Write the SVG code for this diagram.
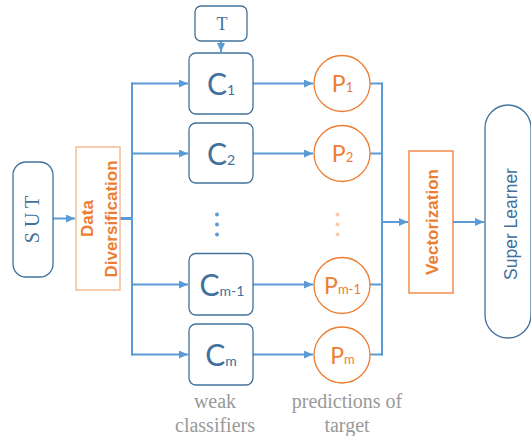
<svg xmlns="http://www.w3.org/2000/svg" width="531" height="436" viewBox="0 0 531 436">
<defs>
<marker id="ah" markerUnits="userSpaceOnUse" markerWidth="10" markerHeight="9" refX="9" refY="4" orient="auto">
<path d="M0,0 L9,4 L0,8 z" fill="#5b9bd5"/>
</marker>
<style>
.bx{fill:#fff;stroke:#41719c;stroke-width:1.3}
.cn{fill:none;stroke:#5b9bd5;stroke-width:2}
.ar{fill:none;stroke:#5b9bd5;stroke-width:2;marker-end:url(#ah)}
.ct{font-family:Lato,"Liberation Sans",sans-serif;fill:#41719c}
.pt{font-family:Lato,"Liberation Sans",sans-serif;fill:#ed7d31}
.pc{fill:#fff;stroke:#ed7d31;stroke-width:1.3}
.ob{font-family:"Liberation Sans",Arial,sans-serif;font-weight:bold;font-size:17px;fill:#ed7d31}
.lb{font-family:"Liberation Serif","DejaVu Serif","Times New Roman",serif;font-size:20px;fill:#999}
.sf{font-family:"Liberation Serif","DejaVu Serif","Times New Roman",serif;fill:#41719c}
</style>
</defs>
<rect width="531" height="436" fill="#fff"/>
<g id="connectors">
<line class="ar" x1="53" y1="218.5" x2="75" y2="218.5"/>
<line x1="120" y1="218.5" x2="132" y2="218.5" stroke="#5b9bd5" stroke-width="3"/>
<line class="cn" x1="132" y1="82.5" x2="132" y2="355.5"/>
<line class="ar" x1="131" y1="83.5" x2="188" y2="83.5"/>
<line class="ar" x1="131" y1="153.5" x2="188" y2="153.5"/>
<line class="ar" x1="131" y1="284.5" x2="188" y2="284.5"/>
<line class="ar" x1="131" y1="354.5" x2="188" y2="354.5"/>
<line class="ar" x1="221" y1="41" x2="221" y2="52"/>
<line class="ar" x1="253" y1="83.5" x2="313" y2="83.5"/>
<line class="ar" x1="253" y1="153.5" x2="313" y2="153.5"/>
<line class="ar" x1="253" y1="284.5" x2="313" y2="284.5"/>
<line class="ar" x1="253" y1="354.5" x2="313" y2="354.5"/>
<line class="cn" x1="370" y1="83.5" x2="383" y2="83.5"/>
<line class="cn" x1="370" y1="153.5" x2="383" y2="153.5"/>
<line class="cn" x1="370" y1="284.5" x2="383" y2="284.5"/>
<line class="cn" x1="370" y1="354.5" x2="383" y2="354.5"/>
<line class="cn" x1="382" y1="82.5" x2="382" y2="355.5"/>
<line class="ar" x1="382" y1="222" x2="408" y2="222"/>
<line class="ar" x1="453" y1="222" x2="484" y2="222"/>
</g>
<g id="sut">
<rect class="bx" x="13" y="162" width="40" height="115" rx="13"/>
<text class="sf" transform="translate(39,219.5) rotate(-90)" text-anchor="middle" font-size="20">S U T</text>
</g>
<g id="data-diversification">
<rect x="76" y="147" width="44" height="143" fill="#fff" stroke="#f4b183" stroke-width="1.3"/>
<text class="ob" transform="translate(93,218.5) rotate(-90)" text-anchor="middle">Data</text>
<text class="ob" transform="translate(117,219) rotate(-90)" text-anchor="middle">Diversification</text>
</g>
<g id="t">
<rect class="bx" x="195" y="6" width="52" height="35" rx="6"/>
<text class="sf" x="222" y="29.5" text-anchor="middle" font-size="18">T</text>
</g>
<g id="c1">
<rect class="bx" x="189" y="53" width="64" height="61" rx="7"/>
<text class="ct" x="221" y="94.5" text-anchor="middle"><tspan font-size="30">C</tspan><tspan font-size="14">1</tspan></text>
</g>
<g id="c2">
<rect class="bx" x="189" y="123" width="64" height="60" rx="7"/>
<text class="ct" x="221" y="164.5" text-anchor="middle"><tspan font-size="30">C</tspan><tspan font-size="14">2</tspan></text>
</g>
<g id="c-dots" fill="#5b9bd5">
<circle cx="217" cy="214.5" r="2"/>
<circle cx="217" cy="224.5" r="2"/>
<circle cx="217" cy="234.5" r="2"/>
</g>
<g id="cm-1">
<rect class="bx" x="189" y="253.5" width="64" height="61.5" rx="7"/>
<text class="ct" x="222" y="295.5" text-anchor="middle"><tspan font-size="30">C</tspan><tspan font-size="14">m-1</tspan></text>
</g>
<g id="cm">
<rect class="bx" x="189" y="324" width="64" height="61" rx="7"/>
<text class="ct" x="221" y="365.5" text-anchor="middle"><tspan font-size="30">C</tspan><tspan font-size="14">m</tspan></text>
</g>
<g id="p1">
<circle class="pc" cx="342" cy="83.5" r="28"/>
<text class="pt" x="342.5" y="92" text-anchor="middle"><tspan font-size="23">P</tspan><tspan font-size="13">1</tspan></text>
</g>
<g id="p2">
<circle class="pc" cx="342" cy="153.5" r="28"/>
<text class="pt" x="342.5" y="162" text-anchor="middle"><tspan font-size="23">P</tspan><tspan font-size="13">2</tspan></text>
</g>
<g id="p-dots" fill="#f8cbad">
<circle cx="337.5" cy="214.5" r="2"/>
<circle cx="337.5" cy="224.5" r="2"/>
<circle cx="337.5" cy="234.5" r="2"/>
</g>
<g id="pm-1">
<circle class="pc" cx="342" cy="285.5" r="28"/>
<text class="pt" x="342.5" y="294" text-anchor="middle"><tspan font-size="23">P</tspan><tspan font-size="13">m-1</tspan></text>
</g>
<g id="pm">
<circle class="pc" cx="342" cy="355" r="28"/>
<text class="pt" x="342.5" y="363.5" text-anchor="middle"><tspan font-size="23">P</tspan><tspan font-size="13">m</tspan></text>
</g>
<g id="vectorization">
<rect x="409" y="151" width="44" height="142" fill="#fff" stroke="#ed7d31" stroke-width="1.3"/>
<text class="ob" transform="translate(438,222) rotate(-90)" text-anchor="middle">Vectorization</text>
</g>
<g id="super-learner">
<rect class="bx" x="485" y="105" width="46" height="233" rx="23"/>
<text transform="translate(517,224) rotate(-90)" text-anchor="middle" font-family="'Liberation Sans',Arial,sans-serif" font-size="17.5" fill="#41719c">Super Learner</text>
</g>
<g id="labels">
<text class="lb" x="215" y="408" text-anchor="middle">weak</text>
<text class="lb" x="215" y="431.5" text-anchor="middle">classifiers</text>
<text class="lb" x="347" y="408" text-anchor="middle">predictions of</text>
<text class="lb" x="347" y="431.5" text-anchor="middle">target</text>
</g>
</svg>
